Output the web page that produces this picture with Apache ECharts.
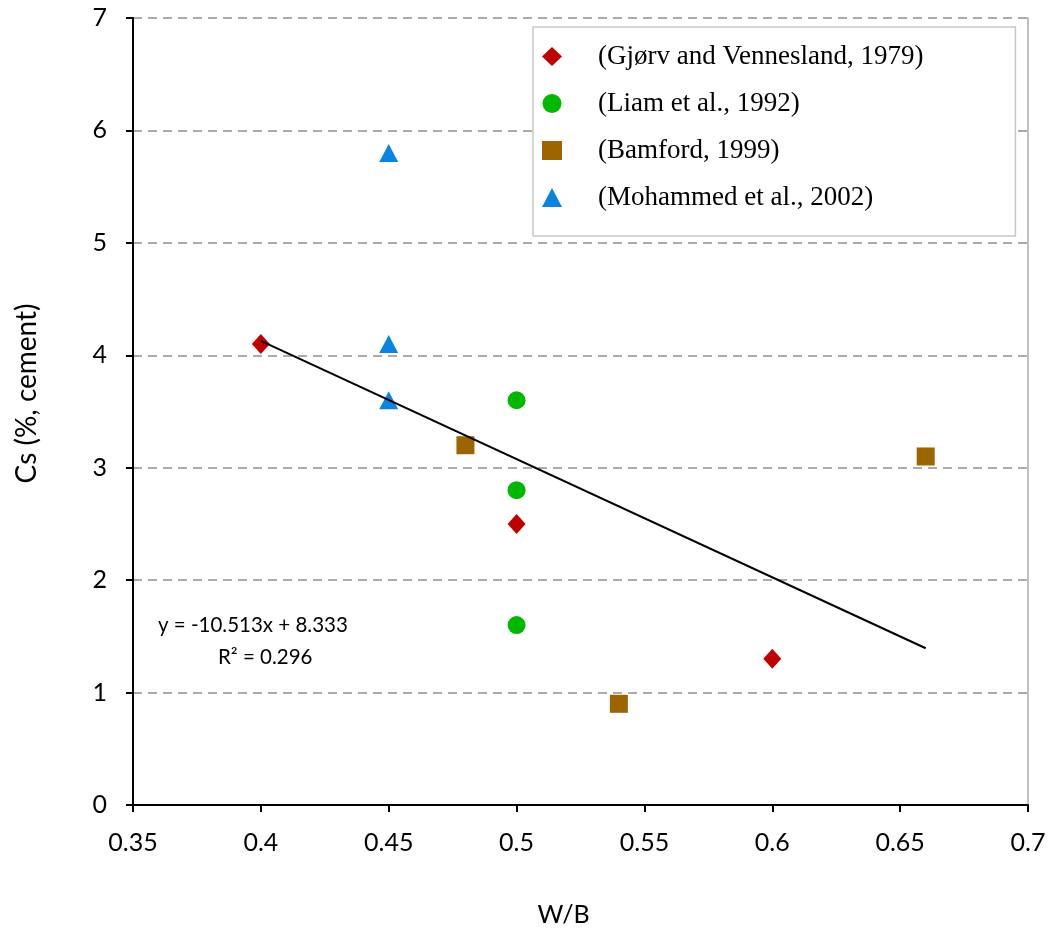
<!DOCTYPE html>
<html>
<head>
<meta charset="utf-8">
<script src="https://cdn.jsdelivr.net/npm/echarts@6/dist/echarts.min.js"></script>
<style>
  html, body { margin: 0; padding: 0; background: #fff; }
  #chart { width: 1052px; height: 928px; }
</style>
</head>
<body>
<div id="chart"></div>
<script>
// Surface chloride content versus water/binder ratio
const seriesNames = [
  '(Gjørv and Vennesland, 1979)',
  '(Liam et al., 1992)',
  '(Bamford, 1999)',
  '(Mohammed et al., 2002)'
];
const gjorv = [[0.40, 4.1], [0.50, 2.5], [0.60, 1.3]];
const liam = [[0.50, 3.6], [0.50, 2.8], [0.50, 1.6]];
const bamford = [[0.48, 3.2], [0.54, 0.9], [0.66, 3.1]];
const mohammed = [[0.45, 5.8], [0.45, 4.1], [0.45, 3.6]];

// Linear fit reported for all points
const slope = -10.513;
const intercept = 8.333;
const rSquared = 0.296;
const fitRange = [0.40, 0.66];

const xTicks = [0.35, 0.4, 0.45, 0.5, 0.55, 0.6, 0.65, 0.7];
const yTicks = [0, 1, 2, 3, 4, 5, 6, 7];

const fitLine = fitRange.map(x => [x, slope * x + intercept]);

const sans = 'Lato, "Open Sans", sans-serif';
const tickFont = { fontFamily: sans, fontSize: 25, color: '#000' };

const chart = echarts.init(document.getElementById('chart'), null, { renderer: 'canvas' });

chart.setOption({
  animation: false,
  backgroundColor: '#fff',
  grid: { left: 133, top: 18, right: 24, bottom: 123, outerBoundsMode: 'none', containLabel: false },
  legend: {
    data: seriesNames,
    orient: 'vertical',
    left: 533,
    top: 27,
    padding: [16, 92, 25, 9],
    itemGap: 20,
    itemWidth: 20,
    itemHeight: 19,
    backgroundColor: '#fff',
    borderColor: '#c8c8c8',
    borderWidth: 1.5,
    borderRadius: 0,
    textStyle: { fontFamily: '"Liberation Serif", "Times New Roman", serif', fontSize: 27, color: '#000', padding: [0, 0, 0, 31] }
  },
  xAxis: {
    type: 'value',
    min: xTicks[0],
    max: xTicks[xTicks.length - 1],
    interval: 0.05,
    name: 'W/B',
    nameLocation: 'middle',
    nameGap: 97,
    nameTextStyle: { fontFamily: sans, fontSize: 25, color: '#000', padding: [0, 34, 0, 0] },
    axisLine: { onZero: false, lineStyle: { color: '#000', width: 2 } },
    axisTick: { show: true, length: 7, lineStyle: { color: '#000', width: 2 } },
    axisLabel: { ...tickFont, margin: 25, formatter: v => String(+v.toFixed(2)) },
    splitLine: { show: false }
  },
  yAxis: [
    {
      type: 'value',
      min: yTicks[0],
      max: yTicks[yTicks.length - 1],
      interval: 1,
      name: 'Cs (%, cement)',
      nameLocation: 'middle',
      nameGap: 92,
      nameRotate: 90,
      nameTextStyle: { fontFamily: sans, fontSize: 28, color: '#000', padding: [0, 0, 0, 36] },
      axisLine: { onZero: false, lineStyle: { color: '#000', width: 2 } },
      axisTick: { show: true, length: 7, lineStyle: { color: '#000', width: 2 } },
      axisLabel: { ...tickFont, margin: 26 },
      splitLine: { show: true, lineStyle: { color: '#ababab', width: 2, type: [9, 6] } }
    },
    {
      // plain grey frame edge on the right
      type: 'value',
      position: 'right',
      min: yTicks[0],
      max: yTicks[yTicks.length - 1],
      interval: 1,
      axisLine: { show: true, lineStyle: { color: '#c0c0c0', width: 2 } },
      axisTick: { show: false },
      axisLabel: { show: false },
      splitLine: { show: false }
    }
  ],
  series: [
    {
      name: 'fit', type: 'line', data: fitLine, symbol: 'none', z: 3,
      lineStyle: { color: '#000', width: 2 }, silent: true
    },
    {
      name: seriesNames[0], type: 'scatter', data: gjorv, symbol: 'diamond', symbolSize: [18, 20], z: 2,
      itemStyle: { color: '#c00000', opacity: 1 }
    },
    {
      name: seriesNames[1], type: 'scatter', data: liam, symbol: 'circle', symbolSize: 18, z: 2,
      itemStyle: { color: '#00b800', opacity: 1 }
    },
    {
      name: seriesNames[2], type: 'scatter', data: bamford, symbol: 'rect', symbolSize: 18, z: 2,
      itemStyle: { color: '#9c6500', opacity: 1 }
    },
    {
      name: seriesNames[3], type: 'scatter', data: mohammed, symbol: 'triangle', symbolSize: [19, 18], z: 2,
      itemStyle: { color: '#0a84e0', opacity: 1 }
    }
  ],
  graphic: [
    {
      type: 'text', left: 158, top: 615,
      style: { text: 'y = ' + slope.toFixed(3) + 'x + ' + intercept.toFixed(3), font: '20.5px ' + sans, fill: '#000' }
    },
    {
      type: 'text', left: 218, top: 647,
      style: { text: 'R\u00b2 = ' + rSquared.toFixed(3), font: '20.5px ' + sans, fill: '#000' }
    }
  ]
});
</script>
</body>
</html>
